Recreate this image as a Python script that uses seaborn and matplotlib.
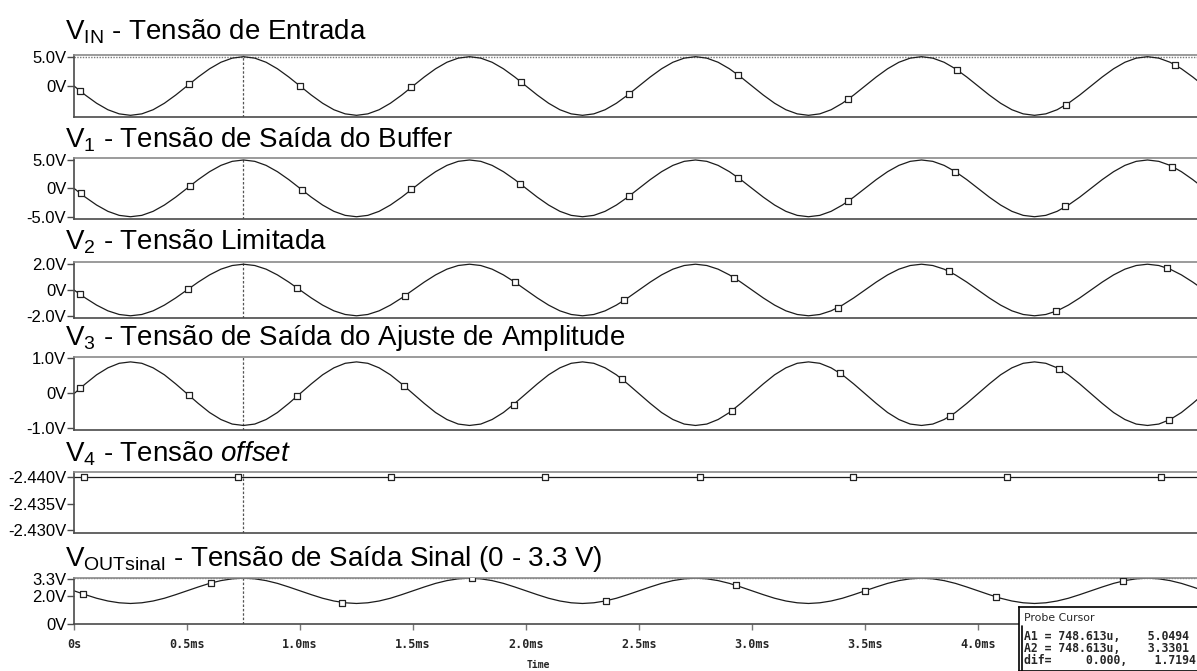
import numpy as np
import pandas as pd
import matplotlib
matplotlib.use("Agg")
import matplotlib.pyplot as plt
import seaborn as sns

# ---------------- data ----------------
time_ms = np.round(np.arange(0, 5.0001, 0.05), 2)

v_in = [0.00, -1.56, -2.97, -4.09, -4.80, -5.05, -4.80, -4.09, -2.97, -1.56,
        0.00, 1.56, 2.97, 4.09, 4.80, 5.05, 4.80, 4.09, 2.97, 1.56,
        0.00, -1.56, -2.97, -4.09, -4.80, -5.05, -4.80, -4.09, -2.97, -1.56,
        0.00, 1.56, 2.97, 4.09, 4.80, 5.05, 4.80, 4.09, 2.97, 1.56,
        0.00, -1.56, -2.97, -4.09, -4.80, -5.05, -4.80, -4.09, -2.97, -1.56,
        0.00, 1.56, 2.97, 4.09, 4.80, 5.05, 4.80, 4.09, 2.97, 1.56,
        0.00, -1.56, -2.97, -4.09, -4.80, -5.05, -4.80, -4.09, -2.97, -1.56,
        0.00, 1.56, 2.97, 4.09, 4.80, 5.05, 4.80, 4.09, 2.97, 1.56,
        0.00, -1.56, -2.97, -4.09, -4.80, -5.05, -4.80, -4.09, -2.97, -1.56,
        0.00, 1.56, 2.97, 4.09, 4.80, 5.05, 4.80, 4.09, 2.97, 1.56,
        0.00]

v1 = [0.00, -1.55, -2.94, -4.05, -4.76, -5.00, -4.76, -4.05, -2.94, -1.55,
      0.00, 1.55, 2.94, 4.05, 4.76, 5.00, 4.76, 4.05, 2.94, 1.55,
      0.00, -1.55, -2.94, -4.05, -4.76, -5.00, -4.76, -4.05, -2.94, -1.55,
      0.00, 1.55, 2.94, 4.05, 4.76, 5.00, 4.76, 4.05, 2.94, 1.55,
      0.00, -1.55, -2.94, -4.05, -4.76, -5.00, -4.76, -4.05, -2.94, -1.55,
      0.00, 1.55, 2.94, 4.05, 4.76, 5.00, 4.76, 4.05, 2.94, 1.55,
      0.00, -1.55, -2.94, -4.05, -4.76, -5.00, -4.76, -4.05, -2.94, -1.55,
      0.00, 1.55, 2.94, 4.05, 4.76, 5.00, 4.76, 4.05, 2.94, 1.55,
      0.00, -1.55, -2.94, -4.05, -4.76, -5.00, -4.76, -4.05, -2.94, -1.55,
      0.00, 1.55, 2.94, 4.05, 4.76, 5.00, 4.76, 4.05, 2.94, 1.55,
      0.00]

v2 = [0.00, -0.61, -1.16, -1.60, -1.88, -1.98, -1.88, -1.60, -1.16, -0.61,
      0.00, 0.61, 1.16, 1.60, 1.88, 1.98, 1.88, 1.60, 1.16, 0.61,
      0.00, -0.61, -1.16, -1.60, -1.88, -1.98, -1.88, -1.60, -1.16, -0.61,
      0.00, 0.61, 1.16, 1.60, 1.88, 1.98, 1.88, 1.60, 1.16, 0.61,
      0.00, -0.61, -1.16, -1.60, -1.88, -1.98, -1.88, -1.60, -1.16, -0.61,
      0.00, 0.61, 1.16, 1.60, 1.88, 1.98, 1.88, 1.60, 1.16, 0.61,
      0.00, -0.61, -1.16, -1.60, -1.88, -1.98, -1.88, -1.60, -1.16, -0.61,
      0.00, 0.61, 1.16, 1.60, 1.88, 1.98, 1.88, 1.60, 1.16, 0.61,
      0.00, -0.61, -1.16, -1.60, -1.88, -1.98, -1.88, -1.60, -1.16, -0.61,
      0.00, 0.61, 1.16, 1.60, 1.88, 1.98, 1.88, 1.60, 1.16, 0.61,
      0.00]

v3 = [-0.02, 0.26, 0.52, 0.72, 0.85, 0.89, 0.85, 0.72, 0.52, 0.26,
      -0.02, -0.30, -0.56, -0.76, -0.89, -0.93, -0.89, -0.76, -0.56, -0.30,
      -0.02, 0.26, 0.52, 0.72, 0.85, 0.89, 0.85, 0.72, 0.52, 0.26,
      -0.02, -0.30, -0.56, -0.76, -0.89, -0.93, -0.89, -0.76, -0.56, -0.30,
      -0.02, 0.26, 0.52, 0.72, 0.85, 0.89, 0.85, 0.72, 0.52, 0.26,
      -0.02, -0.30, -0.56, -0.76, -0.89, -0.93, -0.89, -0.76, -0.56, -0.30,
      -0.02, 0.26, 0.52, 0.72, 0.85, 0.89, 0.85, 0.72, 0.52, 0.26,
      -0.02, -0.30, -0.56, -0.76, -0.89, -0.93, -0.89, -0.76, -0.56, -0.30,
      -0.02, 0.26, 0.52, 0.72, 0.85, 0.89, 0.85, 0.72, 0.52, 0.26,
      -0.02, -0.30, -0.56, -0.76, -0.89, -0.93, -0.89, -0.76, -0.56, -0.30,
      -0.02]

v4 = [-2.440] * 101

v_out = [2.41, 2.13, 1.87, 1.67, 1.54, 1.49, 1.54, 1.67, 1.87, 2.13,
         2.41, 2.69, 2.95, 3.15, 3.28, 3.33, 3.28, 3.15, 2.95, 2.69,
         2.41, 2.13, 1.87, 1.67, 1.54, 1.49, 1.54, 1.67, 1.87, 2.13,
         2.41, 2.69, 2.95, 3.15, 3.28, 3.33, 3.28, 3.15, 2.95, 2.69,
         2.41, 2.13, 1.87, 1.67, 1.54, 1.49, 1.54, 1.67, 1.87, 2.13,
         2.41, 2.69, 2.95, 3.15, 3.28, 3.33, 3.28, 3.15, 2.95, 2.69,
         2.41, 2.13, 1.87, 1.67, 1.54, 1.49, 1.54, 1.67, 1.87, 2.13,
         2.41, 2.69, 2.95, 3.15, 3.28, 3.33, 3.28, 3.15, 2.95, 2.69,
         2.41, 2.13, 1.87, 1.67, 1.54, 1.49, 1.54, 1.67, 1.87, 2.13,
         2.41, 2.69, 2.95, 3.15, 3.28, 3.33, 3.28, 3.15, 2.95, 2.69,
         2.41]

# marker symbols on each trace
mk_in_t = [0.028, 0.511, 1.001, 1.493, 1.979, 2.456, 2.94, 3.426, 3.906, 4.39, 4.87]
mk_in_v = [-0.87, 0.35, -0.03, -0.22, 0.66, -1.37, 1.84, -2.24, 2.78, -3.19, 3.64]
mk_v1_t = [0.030, 0.513, 1.007, 1.490, 1.975, 2.455, 2.94, 3.425, 3.900, 4.385, 4.86]
mk_v1_v = [-0.80, 0.40, -0.22, -0.16, 0.75, -1.35, 1.84, -2.22, 2.94, -3.14, 3.84]
mk_v2_t = [0.027, 0.504, 0.987, 1.465, 1.951, 2.434, 2.92, 3.38, 3.87, 4.345, 4.836]
mk_v2_v = [-0.33, 0.05, 0.16, -0.43, 0.60, -0.80, 0.95, -1.36, 1.44, -1.64, 1.70]
mk_v3_t = [0.028, 0.509, 0.987, 1.46, 1.945, 2.424, 2.91, 3.39, 3.875, 4.36, 4.844]
mk_v3_v = [0.14, -0.07, -0.09, 0.21, -0.33, 0.40, -0.51, 0.56, -0.66, 0.68, -0.78]
mk_v4_t = [0.044, 0.725, 1.403, 2.084, 2.77, 3.447, 4.13, 4.81]
mk_v4_v = [-2.440] * 8
mk_out_t = [0.04, 0.608, 1.186, 1.76, 2.354, 2.93, 3.50, 4.08, 4.64]
mk_out_v = [2.18, 2.98, 1.56, 3.31, 1.68, 2.80, 2.41, 1.97, 3.12]

cursor_t = 0.748613
cursor_a1 = 5.0494
cursor_a2 = 3.3301

titles = [r"V$_{\mathrm{IN}}$ - Tensão de Entrada",
          r"V$_{\mathrm{1}}$ - Tensão de Saída do Buffer",
          r"V$_{\mathrm{2}}$ - Tensão Limitada",
          r"V$_{\mathrm{3}}$ - Tensão de Saída do Ajuste de Amplitude",
          r"V$_{\mathrm{4}}$ - Tensão $\mathit{offset}$",
          r"V$_{\mathrm{OUTsinal}}$ - Tensão de Saída Sinal (0 - 3.3 V)"]

ytick_vals = [[5.0, 0.0], [5.0, 0.0, -5.0], [2.0, 0.0, -2.0], [1.0, 0.0, -1.0],
              [-2.440, -2.435, -2.430], [3.3, 2.0, 0.0]]
ytick_labels = [["5.0V", "0V"], ["5.0V", "0V", "-5.0V"], ["2.0V", "0V", "-2.0V"],
                ["1.0V", "0V", "-1.0V"], ["-2.440V", "-2.435V", "-2.430V"],
                ["3.3V", "2.0V", "0V"]]
xtick_vals = [0.0, 0.5, 1.0, 1.5, 2.0, 2.5, 3.0, 3.5, 4.0]
xtick_labels = ["0s", "0.5ms", "1.0ms", "1.5ms", "2.0ms", "2.5ms", "3.0ms",
                "3.5ms", "4.0ms"]

series = [v_in, v1, v2, v3, v4, v_out]
markers = [(mk_in_t, mk_in_v), (mk_v1_t, mk_v1_v), (mk_v2_t, mk_v2_v),
           (mk_v3_t, mk_v3_v), (mk_v4_t, mk_v4_v), (mk_out_t, mk_out_v)]

# ---------------- layout (pixels) ----------------
W, H = 1197, 671
LEFT, RIGHT = 74, 1204
panels_px = [(55, 117), (158, 219), (262, 318), (357, 430), (471.7, 533.3), (578, 624)]
title_base = [39, 147, 250, 345, 461.7, 566]
ylims = [(-5.34, 5.34), (-5.40, 5.35), (-2.15, 2.15), (-1.06, 1.03),
         (-2.42937, -2.4411), (0.0, 3.34)]

sns.set_style("white")
plt.rcParams["font.family"] = ["Liberation Sans", "DejaVu Sans"]
plt.rcParams["mathtext.fontset"] = "custom"
plt.rcParams["mathtext.rm"] = "Liberation Sans"
plt.rcParams["mathtext.it"] = "Liberation Sans:italic"
plt.rcParams["mathtext.bf"] = "Liberation Sans:bold"

fig = plt.figure(figsize=(W / 100, H / 100), dpi=100)
fig.patch.set_facecolor("white")

SPINE = "#4a4a4a"
LINE = "#1c1c1c"

axes = []
for i, (top, bot) in enumerate(panels_px):
    ax = fig.add_axes([LEFT / W, 1 - bot / H, (RIGHT - LEFT) / W, (bot - top) / H])
    axes.append(ax)
    sns.lineplot(x=time_ms, y=series[i], ax=ax, color=LINE, linewidth=0.9,
                 estimator=None, sort=False)
    mt, mv = markers[i]
    sns.scatterplot(x=mt, y=mv, ax=ax, marker="s", s=24, color="white",
                    edgecolor="#222222", linewidth=0.9, zorder=5)
    ax.set_xlim(0, 5.0)
    ax.set_ylim(*ylims[i])   # V4 panel is drawn with its axis reversed, as in the reference
    ax.set_yticks(ytick_vals[i])
    ax.set_yticklabels(ytick_labels[i])
    ax.tick_params(axis="y", left=True, direction="out", length=5, width=1,
                   color=SPINE, labelsize=12, pad=0.5, labelcolor="black")
    for sp in ["left", "bottom", "top"]:
        ax.spines[sp].set_visible(True)
        ax.spines[sp].set_color(SPINE)
        ax.spines[sp].set_linewidth(1.2)
    ax.spines["top"].set_color("#8a8a8a")
    ax.spines["right"].set_visible(False)
    ax.set_xlabel("")
    ax.set_ylabel("")
    ax.axvline(cursor_t, color="#555555", linewidth=0.9, linestyle=(0, (2, 1.5)), zorder=1)
    if i < 5:
        ax.tick_params(axis="x", bottom=False, labelbottom=False)
    fig.text(65 / W, 1 - title_base[i] / H, titles[i], fontsize=20,
             ha="left", va="baseline", color="black")

axes[0].axhline(cursor_a1, color="#7a7a7a", linewidth=1.0, linestyle=(0, (1, 1)), zorder=1)
axes[5].axhline(cursor_a2, color="#7a7a7a", linewidth=1.0, linestyle=(0, (1, 1)), zorder=1)

axb = axes[5]
axb.set_xticks(xtick_vals)
axb.set_xticklabels(xtick_labels, fontfamily="DejaVu Sans Mono", fontweight="bold", fontsize=8.5)
axb.tick_params(axis="x", bottom=True, direction="out", length=4, width=1,
                color="#777777", pad=6)

fig.text(538 / W, 1 - 665 / H, "Time", fontfamily="DejaVu Sans Mono",
         fontweight="bold", fontsize=7, ha="center", va="center")

# ---------------- probe cursor box ----------------
bx0, by0 = 1019, 606.5
pbox = fig.add_axes([bx0 / W, 0, (1210 - bx0) / W, (H - by0) / H], zorder=10)
pbox.set_facecolor("white")
pbox.set_xticks([])
pbox.set_yticks([])
for sp in pbox.spines.values():
    sp.set_visible(True)
    sp.set_color("black")
    sp.set_linewidth(1.2)
pbox.plot([1022 / W, 1022 / W], [1 - 626 / H, 0], transform=fig.transFigure,
          color="black", linewidth=1.2, clip_on=False)
pbox.text(1024 / W, 1 - 618 / H, "Probe Cursor", transform=fig.transFigure,
          fontfamily="DejaVu Sans", fontsize=7.8, ha="left", va="center")
probe_lines = ["A1 = 748.613u,    5.0494",
               "A2 = 748.613u,    3.3301",
               "dif=     0.000,    1.7194"]
for txt, yy in zip(probe_lines, [637, 649, 660]):
    pbox.text(1024 / W, 1 - yy / H, txt, transform=fig.transFigure,
              fontfamily="DejaVu Sans Mono", fontweight="bold", fontsize=8.3,
              ha="left", va="center")

fig.savefig("out.png", dpi=100, facecolor="white")
